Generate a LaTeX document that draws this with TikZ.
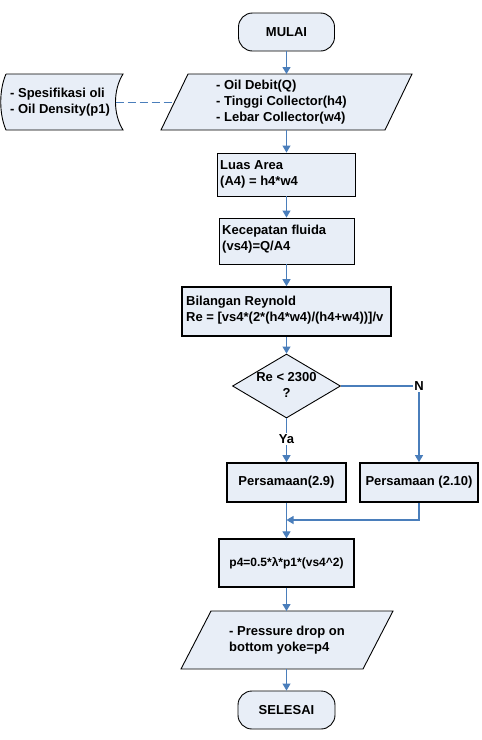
\documentclass[tikz,border=0pt]{standalone}
\usepackage{fontspec}
\setmainfont{Liberation Sans}
\usetikzlibrary{arrows.meta,shapes.geometric}
\definecolor{boxfill}{HTML}{E8EEF7}
\definecolor{flowblue}{HTML}{4A7EBB}
\begin{document}
\begin{tikzpicture}[x=1pt,y=-1pt,
  every node/.style={font=\bfseries\fontsize{13}{16}\selectfont, inner sep=0pt},
  blk/.style={draw=black, fill=boxfill, line width=0.9pt},
  term/.style={blk, rounded corners=14pt, minimum width=96pt, minimum height=38pt},
  procbox/.style={blk},
  thickbox/.style={draw=black, fill=boxfill, line width=1.7pt},
  medbox/.style={draw=black, fill=boxfill, line width=1.3pt},
  txt/.style={align=left, anchor=west},
  flowline/.style={draw=flowblue, line width=1.1pt},
  flowarrow/.style={flowline, -{Triangle[length=7pt,width=8pt]}},
  dashline/.style={draw=flowblue, line width=0.9pt, dash pattern=on 8pt off 4pt},
  lbl/.style={fill=white, inner sep=1.5pt}
]
\useasboundingbox (0,0) rectangle (482,740);
\fill[white] (0,0) rectangle (482,740);

% start
\node[term] (start) at (286.5,32) {MULAI};

% input parallelogram
\draw[blk] (188,74) -- (412,74) -- (385,130) -- (161,130) -- cycle;
\node[txt] (inp) at (216,102) {- Oil Debit(Q)\\- Tinggi Collector(h4)\\- Lebar Collector(w4)};
\coordinate (inpTop) at (286.5,74);
\coordinate (inpBot) at (286.5,130);
\coordinate (inpLeft) at (174.5,102);

% stored data
\draw[blk] (6,74) -- (123,74) .. controls (113,90) and (113,114) .. (123,130) -- (6,130) .. controls (-1,114) and (-1,90) .. (6,74);
\node[txt] (spec) at (10,102) {- Spesifikasi oli\\- Oil Density(p1)};
\coordinate (specRight) at (115.5,102);
\draw[dashline] (specRight) -- (inpLeft);

% process boxes
\node[procbox, minimum width=138pt, minimum height=43pt] (luas) at (286.5,174.5) {};
\node[txt] (luastext) at (220,174) {Luas Area\\(A4) = h4*w4};

\node[procbox, minimum width=135pt, minimum height=46pt] (kec) at (286.5,241) {};
\node[txt] (kectext) at (222,239) {Kecepatan fluida\\(vs4)=Q/A4};

\node[thickbox, minimum width=209pt, minimum height=49pt] (bil) at (286.5,311.5) {};
\node[txt] (biltext) at (186,310.5) {Bilangan Reynold\\Re = [vs4*(2*(h4*w4)/(h4+w4))]/v};

% decision
\node[diamond, blk, minimum width=108pt, minimum height=64pt] (dec) at (286.5,386) {};
\node[align=center] (dectext) at (286.5,385) {Re < 2300\\?};

% equations
\node[thickbox, minimum width=119pt, minimum height=39pt] (eq1) at (286.5,482.5) {Persamaan(2.9)};
\node[thickbox, minimum width=118pt, minimum height=39pt] (eq2) at (419,482.5) {Persamaan (2.10)};

% p4
\node[medbox, minimum width=135pt, minimum height=48pt] (p4) at (286.5,563) {\fontsize{12}{14}\selectfont p4=0.5*λ*p1*(vs4\textasciicircum 2)};

% output parallelogram
\draw[blk] (211,611) -- (393,611) -- (363,669) -- (181,669) -- cycle;
\node[txt] (out) at (229,640) {- Pressure drop on\\bottom yoke=p4};
\coordinate (outTop) at (286.5,611);
\coordinate (outBot) at (286.5,669);

% end
\node[term, minimum width=97pt] (end) at (286.5,710) {SELESAI};

% connectors
\draw[flowarrow] (start.south) -- (inpTop);
\draw[flowarrow] (inpBot) -- (luas.north);
\draw[flowarrow] (luas.south) -- (kec.north);
\draw[flowarrow] (kec.south) -- (bil.north);
\draw[flowarrow] (bil.south) -- (dec.north);
\draw[flowarrow] (dec.south) -- (eq1.north);
\node[lbl] (ya) at (286.5,439) {Ya};
\draw[flowarrow] (dec.east) -| (eq2.north);
\node[lbl] (nlab) at (419,386) {N};
\coordinate (merge) at (286.5,520);
\draw[flowarrow] (eq2.south) |- (merge);
\draw[flowarrow] (eq1.south) -- (p4.north);
\draw[flowarrow] (p4.south) -- (outTop);
\draw[flowarrow] (outBot) -- (end.north);
\end{tikzpicture}
\end{document}
